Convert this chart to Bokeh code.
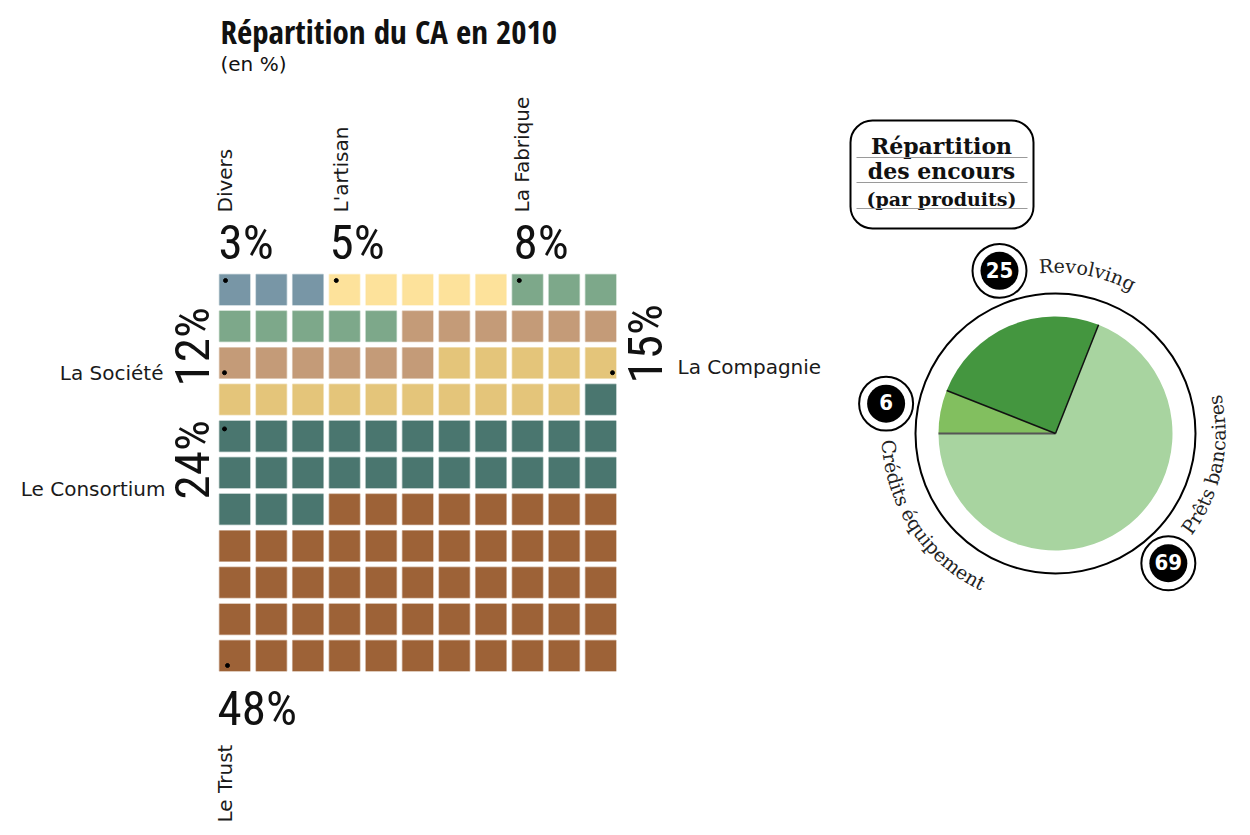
import math
from bokeh.plotting import figure
from bokeh.models import Range1d, BoxAnnotation
from bokeh.core.properties import value
from bokeh.embed import file_html
from bokeh.resources import INLINE

# ---------------- data ----------------
categories = ["Divers", "L'artisan", "La Fabrique", "La Société",
              "La Compagnie", "Le Consortium", "Le Trust"]
shares_pct = [3, 5, 8, 12, 15, 24, 48]          # printed percentages
cell_counts = [3, 5, 8, 12, 15, 26, 52]         # squares drawn in the waffle
cat_colors = ["#7896a6", "#fde29b", "#7da88a", "#c49b78",
              "#e4c57a", "#4a766f", "#9d6237"]

products = ["Crédits équipement", "Revolving", "Prêts bancaires"]
encours = [6, 25, 69]
pie_colors = ["#82bf5f", "#44963f", "#a8d4a0"]

title = "Répartition du CA en 2010"
subtitle = "(en %)"
box_lines = ["Répartition", "des encours", "(par produits)"]

# ---------------- layout helpers (page pixels -> data) ----------------
W, H = 1240, 830
K_BASE = 0.42   # empirical baseline correction (fraction of font size)


def X(px):
    return px


def Y(py):
    return H - py


p = figure(width=W, height=H, x_range=Range1d(0, W), y_range=Range1d(0, H),
           output_backend="svg", toolbar_location=None,
           x_axis_type=None, y_axis_type=None, min_border=0)
p.grid.visible = False
p.outline_line_color = None
p.background_fill_color = "white"

TITLE_FONT = value("Open Sans Condensed")
BIG_FONT = value("Roboto Condensed")
BADGE_FONT = value("DejaVu Sans Condensed")
SANS = value("DejaVu Sans")
SERIF = value("DejaVu Serif")


def put_text(x, y, txt, font, size, angle=0.0, align="left", style="normal",
             color="#111111"):
    """x, y in data units (baseline anchor); angle in radians."""
    s = K_BASE * size
    if isinstance(x, list):
        xs = [xi - s * math.sin(a) for xi, a in zip(x, angle)]
        ys = [yi + s * math.cos(a) for yi, a in zip(y, angle)]
    else:
        xs = [x - s * math.sin(angle)]
        ys = [y + s * math.cos(angle)]
        txt, angle = [txt], [angle]
    p.text(x=xs, y=ys, text=txt, angle=angle, text_font=font,
           text_font_size=f"{size}px", text_font_style=style,
           text_color=color, text_align=align, text_baseline="alphabetic")


# ---------------- title ----------------
put_text(X(220), Y(45), title, TITLE_FONT, 33, style="bold")
put_text(X(220), Y(72), subtitle, SANS, 20)

# ---------------- waffle ----------------
NCOL = 11
GX0, GY0, PITCH, SIZE = 219, 274, 36.6, 30.5
xs, ys, cs = [], [], []
idx = 0
for n, c in zip(cell_counts, cat_colors):
    for _ in range(n):
        r, col = divmod(idx, NCOL)
        xs.append(X(GX0 + col * PITCH + SIZE / 2))
        ys.append(Y(GY0 + r * PITCH + SIZE / 2))
        cs.append(c)
        idx += 1
p.rect(x=xs, y=ys, width=SIZE, height=SIZE, fill_color=cs,
       line_color=cs, line_alpha=0.45, line_width=1.5)

# marker dots: (cell index, offset x, offset y inside the cell)
dot_cells = [(0, 6, 6), (3, 7, 6), (8, 7, 6), (22, 5, 25),
             (32, 27, 25), (44, 5, 8), (110, 8, 25)]
dxs, dys = [], []
for ci, ox, oy in dot_cells:
    r, col = divmod(ci, NCOL)
    dxs.append(X(GX0 + col * PITCH + ox))
    dys.append(Y(GY0 + r * PITCH + oy))
p.scatter(x=dxs, y=dys, size=4, color="black")

# label placement (layout only): name (x, y, rotated?, align), pct (x, y, rotated?)
name_pos = [(233, 212, True, "left"), (349, 212, True, "left"),
            (530, 212, True, "left"), (163, 381, False, "right"),
            (677, 375, False, "left"), (165, 497, False, "right"),
            (233, 822, True, "left")]
pct_pos = [(218, 263, False), (329, 263, False), (513, 263, False),
           (213, 386, True), (666, 383, True), (213, 499, True),
           (217, 729, False)]

for name, v, (nx, ny, nrot, nal), (qx, qy, qrot) in zip(categories, shares_pct, name_pos, pct_pos):
    put_text(X(nx), Y(ny), name, SANS, 20,
             angle=math.pi / 2 if nrot else 0.0, align=nal, color="#1a1a1a")
    put_text(X(qx), Y(qy), f"{v}%", BIG_FONT, 49,
             angle=math.pi / 2 if qrot else 0.0)

# ---------------- pie ----------------
CX, CY = X(1055), Y(433)
R_PIE, R_RING = 117, 140

start = 180.0
bounds = [start]
for v, c in zip(encours, pie_colors):
    end = start - v / sum(encours) * 360.0
    p.wedge(x=[CX], y=[CY], radius=R_PIE, start_angle=math.radians(end),
            end_angle=math.radians(start), direction="anticlock",
            fill_color=c, line_color=None)
    start = end
    bounds.append(end)

# slice separators
seg_cols = ["#555555", "#111111", "#111111"]
for a, lc in zip(bounds[:3], seg_cols):
    p.segment(x0=[CX], y0=[CY], x1=[CX + R_PIE * math.cos(math.radians(a))],
              y1=[CY + R_PIE * math.sin(math.radians(a))],
              line_color=lc, line_width=2 if lc == "#555555" else 1.5)

p.circle(x=[CX], y=[CY], radius=R_RING, fill_color=None,
         line_color="black", line_width=2)

# badges (angle around the ring, layout)
badge_angles = [170, 109, -49]
R_BADGE = 172
for v, a in zip(encours, badge_angles):
    bx = CX + R_BADGE * math.cos(math.radians(a))
    by = CY + R_BADGE * math.sin(math.radians(a))
    p.circle(x=[bx], y=[by], radius=27, fill_color="white",
             line_color="black", line_width=2)
    p.circle(x=[bx], y=[by], radius=19, fill_color="black", line_color=None)
    put_text(bx, by - 8, str(v), BADGE_FONT, 22, align="center",
             style="bold", color="white")

# approximate advance widths of DejaVu Serif (em) for laying text on an arc
SERIF_W = {" ": 0.318, "a": 0.596, "b": 0.640, "c": 0.560, "d": 0.640,
           "e": 0.592, "g": 0.640, "i": 0.320, "l": 0.320, "m": 0.948,
           "n": 0.644, "o": 0.602, "p": 0.640, "q": 0.640, "r": 0.478,
           "s": 0.513, "t": 0.402, "u": 0.644, "v": 0.565, "é": 0.592,
           "ê": 0.592, "C": 0.734, "P": 0.683, "R": 0.734}


def arc_text(txt, r, theta0, direction, size):
    ax, ay, ang, ch = [], [], [], []
    pos = 0.0
    for c in txt:
        w = SERIF_W.get(c, 0.6) * size
        s = pos + w / 2
        pos += w
        d = s / r
        if direction == "cw":
            th = math.radians(theta0) - d
            rot = th - math.pi / 2
        else:
            th = math.radians(theta0) + d
            rot = th + math.pi / 2
        ax.append(CX + r * math.cos(th))
        ay.append(CY + r * math.sin(th))
        ang.append(rot)
        ch.append(c)
    put_text(ax, ay, ch, SERIF, size, angle=ang, align="center", color="#222222")


arc_layout = [(175, 182.3, "ccw"), (160, 95.7, "cw"), (171, 323, "ccw")]
for name, (r, t0, d) in zip(products, arc_layout):
    arc_text(name, r, t0, d, 19)

# ---------------- title box ----------------
box = BoxAnnotation(left=X(850), right=X(1033), top=Y(120), bottom=Y(228),
                    fill_color=None, line_color="black", line_alpha=1.0,
                    line_width=2, border_radius=22)
p.add_layout(box)
line_py = [155, 180, 206]
line_sizes = [22, 22, 19]
for t, py, fs in zip(box_lines, line_py, line_sizes):
    put_text(X(941), Y(py), t, SERIF, fs, align="center", style="bold")
    p.segment(x0=[X(856)], y0=[Y(py + 2)], x1=[X(1027)], y1=[Y(py + 2)],
              line_color="#9a9a9a", line_width=1)

open("out.html", "w").write(file_html(p, INLINE))
